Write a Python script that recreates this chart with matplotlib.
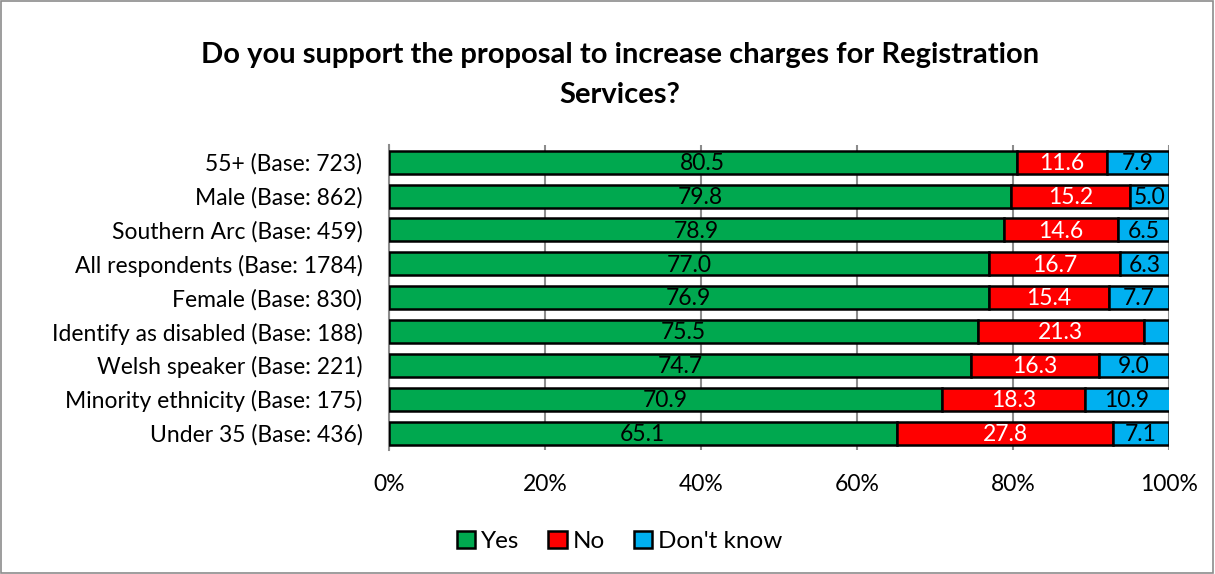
import numpy as np
import matplotlib
matplotlib.use("Agg")
import matplotlib.pyplot as plt
from matplotlib.patches import Rectangle

plt.rcParams['font.family'] = ['Lato', 'DejaVu Sans']

# --- Data (top to bottom as shown) ---
groups = [
    "55+ (Base: 723)",
    "Male (Base: 862)",
    "Southern Arc (Base: 459)",
    "All respondents (Base: 1784)",
    "Female (Base: 830)",
    "Identify as disabled (Base: 188)",
    "Welsh speaker (Base: 221)",
    "Minority ethnicity (Base: 175)",
    "Under 35 (Base: 436)",
]
yes = [80.5, 79.8, 78.9, 77.0, 76.9, 75.5, 74.7, 70.9, 65.1]
no = [11.6, 15.2, 14.6, 16.7, 15.4, 21.3, 16.3, 18.3, 27.8]
dont_know = [7.9, 5.0, 6.5, 6.3, 7.7, 3.2, 9.0, 10.9, 7.1]
# the small disabled "don't know" slice carries no label in the original
show_dk = [True, True, True, True, True, False, True, True, True]

series = ["Yes", "No", "Don't know"]
colors = ["#00a84f", "#ff0000", "#00b0f0"]
text_colors = ["black", "white", "black"]

fig = plt.figure(figsize=(12.15, 5.74), dpi=100)
ax = fig.add_axes([0.320, 0.216, 0.642, 0.531])

y = np.arange(len(groups))
left = np.zeros(len(groups))
for vals, name, col, tc in zip([yes, no, dont_know], series, colors, text_colors):
    vals = np.array(vals)
    bars = ax.barh(y, vals, left=left, height=0.68, color=col,
                   edgecolor="black", linewidth=1.8, label=name, zorder=3)
    for i, v in enumerate(vals):
        if name == "Don't know" and not show_dk[i]:
            continue
        ax.text(left[i] + v / 2, y[i] + 0.04, f"{v:.1f}", ha="center", va="center",
                color=tc, fontsize=16.5, zorder=4)
    left += vals

ax.set_xlim(0, 100)
ax.set_ylim(len(groups) - 0.5, -0.5)
ax.set_yticks(y)
ax.set_yticklabels(groups, fontsize=16.5)
ax.set_xticks(np.arange(0, 101, 20))
ax.set_xticklabels([f"{t}%" for t in range(0, 101, 20)], fontsize=16.5)
ax.tick_params(axis="y", length=0, pad=19)
ax.tick_params(axis="x", length=0, pad=17)
ax.xaxis.grid(True, color="#8c8c8c", linewidth=1.5, zorder=0)
for s in ["top", "right", "bottom"]:
    ax.spines[s].set_visible(False)
ax.spines["left"].set_color("#8c8c8c")
ax.spines["left"].set_linewidth(1.5)

fig.text(0.51, 0.905, "Do you support the proposal to increase charges for Registration",
         ha="center", va="center", fontsize=21, fontweight="bold")
fig.text(0.51, 0.835, "Services?", ha="center", va="center",
         fontsize=21, fontweight="bold")

fig.legend(loc="center", bbox_to_anchor=(0.51, 0.057), ncol=3, frameon=False,
           fontsize=17.5, handlelength=0.75, handleheight=0.75, handletextpad=0.25,
           columnspacing=1.2)

fig.patches.append(Rectangle((0.001, 0.002), 0.997, 0.996, transform=fig.transFigure,
                             fill=False, edgecolor="#8c8c8c", linewidth=1.2))

fig.savefig("out.png", dpi=100)
